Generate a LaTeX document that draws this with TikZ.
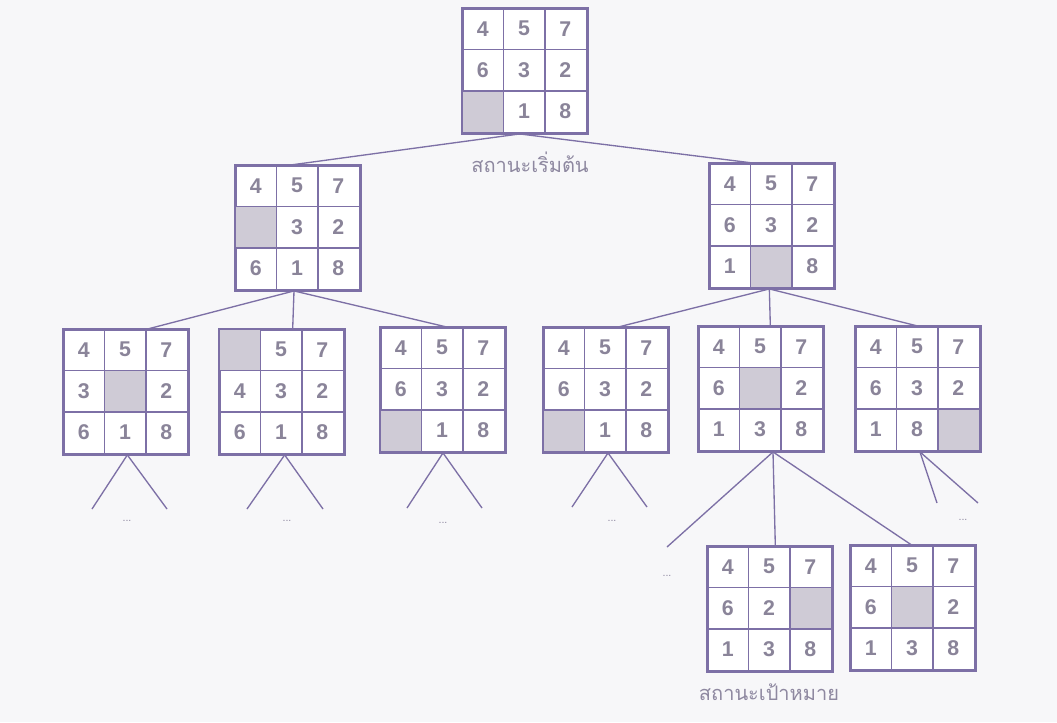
\documentclass[tikz,border=0pt]{standalone}
\usepackage{fontspec}
\setmainfont{Liberation Sans}
\newfontfamily\thaifont[Script=Thai]{Loma}
\usetikzlibrary{calc}
\definecolor{Paper}{HTML}{F7F7F9}
\definecolor{Frame}{HTML}{7D70A6}
\definecolor{Digit}{HTML}{8A8499}
\definecolor{Blank}{HTML}{CFCBD6}
\definecolor{Caption}{HTML}{8E88A0}
\tikzset{board/.style={draw=Frame,line width=1.4pt,fill=white,minimum width=93pt,minimum height=93pt,inner sep=0pt},cellline/.style={draw=Frame,line width=1.2pt},blankcell/.style={fill=Blank},digit/.style={text=Digit,font=\fontsize{16}{18}\selectfont\bfseries},branch/.style={draw=Frame,line width=1pt},moredots/.style={text=Caption,font=\footnotesize},statelabel/.style={text=Caption,font=\thaifont\fontsize{15}{18}\selectfont}}
% one 3x3 board: name, centre, cells row by row (0 = empty cell)
\newcommand{\puzzleboard}[3]{\node[board] (#1) at (#2) {};
\foreach \v [count=\k from 0] in {#3}{\pgfmathtruncatemacro\cc{mod(\k,3)}\pgfmathtruncatemacro\rr{div(\k,3)}
\ifnum\v=0 \fill[blankcell] ($(#1.north west)+(\cc*41.33,\rr*41.33)$) rectangle ++(41.33,41.33);
\else \node[digit] at ($(#1.north west)+(\cc*41.33+20.67,\rr*41.33+20.67)$) {\v};\fi}
\foreach \i in {1,2}{\draw[cellline] ($(#1.north west)+(\i*41.33,0)$)--($(#1.south west)+(\i*41.33,0)$);\draw[cellline] ($(#1.north west)+(0,\i*41.33)$)--($(#1.north east)+(0,\i*41.33)$);}
\draw[cellline,line width=1.4pt] (#1.north west) rectangle (#1.south east);}
\begin{document}
\begin{tikzpicture}[x=0.75pt,y=-0.75pt]
\fill[Paper] (0,0) rectangle (1057,722);\useasboundingbox (0,0) rectangle (1057,722);
\puzzleboard{start}{525,71}{4,5,7,6,3,2,0,1,8}
\puzzleboard{upleft}{298,228}{4,5,7,0,3,2,6,1,8}
\puzzleboard{upright}{772,226}{4,5,7,6,3,2,1,0,8}
\puzzleboard{aa}{126,392}{4,5,7,3,0,2,6,1,8}
\puzzleboard{ab}{282,392}{0,5,7,4,3,2,6,1,8}
\puzzleboard{ac}{443,390}{4,5,7,6,3,2,0,1,8}
\puzzleboard{ad}{606,390}{4,5,7,6,3,2,0,1,8}
\puzzleboard{ae}{761,389}{4,5,7,6,0,2,1,3,8}
\puzzleboard{af}{918,389}{4,5,7,6,3,2,1,8,0}
\puzzleboard{goala}{770,609}{4,5,7,6,2,0,1,3,8}
\puzzleboard{goalb}{913,608}{4,5,7,6,0,2,1,3,8}
\node[statelabel] (startlabel) at (530,162) {สถานะเริ่มต้น};
\node[statelabel] (goallabel) at (769,692) {สถานะเป้าหมาย};
% branches between boards
\draw[branch] ([xshift=-4pt]start.south)--([xshift=-6pt]upleft.north);\draw[branch] ([xshift=-4pt]start.south)--([xshift=-14pt]upright.north);
\draw[branch] ([xshift=-3pt]upleft.south)--([xshift=16pt]aa.north);\draw[branch] ([xshift=-3pt]upleft.south)--([xshift=8pt]ab.north);\draw[branch] ([xshift=-3pt]upleft.south)--([xshift=3pt]ac.north);
\draw[branch] ([xshift=-2pt]upright.south)--([xshift=9pt]ad.north);\draw[branch] ([xshift=-2pt]upright.south)--([xshift=7pt]ae.north);\draw[branch] ([xshift=-2pt]upright.south)--(af.north);
\draw[branch] ([xshift=9pt]ae.south)--([xshift=4pt]goala.north);\draw[branch] ([xshift=9pt]ae.south)--([xshift=-1pt]goalb.north);
% open branches
\coordinate (aal) at (92,509);\coordinate (aar) at (167,509);\coordinate (abl) at (247,509);\coordinate (abr) at (323,509);
\coordinate (acl) at (407,508);\coordinate (acr) at (482,508);\coordinate (adl) at (572,507);\coordinate (adr) at (647,507);
\coordinate (ael) at (667,547);\coordinate (afl) at (937,503);\coordinate (afr) at (978,503);
\draw[branch] ([xshift=1pt]aa.south)--(aal);\draw[branch] ([xshift=1pt]aa.south)--(aar);
\draw[branch] ([xshift=2pt]ab.south)--(abl);\draw[branch] ([xshift=2pt]ab.south)--(abr);
\draw[branch] (ac.south)--(acl);\draw[branch] (ac.south)--(acr);
\draw[branch] ([xshift=1.5pt]ad.south)--(adl);\draw[branch] ([xshift=1.5pt]ad.south)--(adr);
\draw[branch] ([xshift=9pt]ae.south)--(ael);
\draw[branch] ([xshift=1.5pt]af.south)--(afl);\draw[branch] ([xshift=1.5pt]af.south)--(afr);
\node[moredots] (dotsaa) at (127,521) {...};\node[moredots] (dotsab) at (287,521) {...};\node[moredots] (dotsac) at (443,523) {...};
\node[moredots] (dotsad) at (612,521) {...};\node[moredots] (dotsae) at (667,576) {...};\node[moredots] (dotsaf) at (963,520) {...};
\end{tikzpicture}
\end{document}
